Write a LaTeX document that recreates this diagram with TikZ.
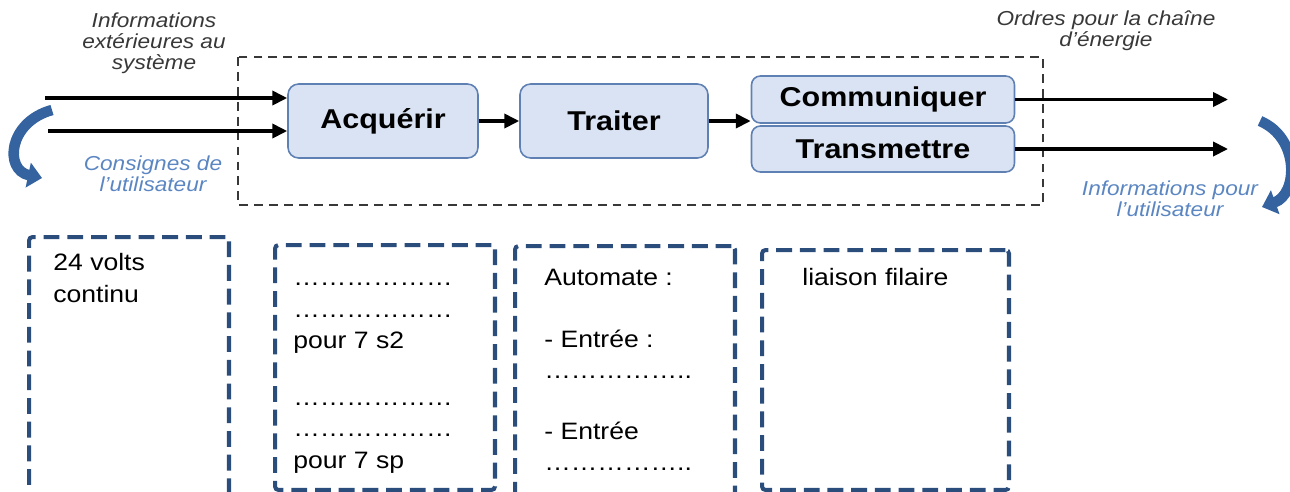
\documentclass[tikz,border=0pt]{standalone}
\usepackage{fontspec}
\setmainfont[FakeStretch=1.12]{Liberation Sans}
\usetikzlibrary{arrows.meta}

\definecolor{fondbloc}{HTML}{DAE3F3}
\definecolor{bordbloc}{HTML}{5F80B2}
\definecolor{bleufonce}{HTML}{2A4D7C}
\definecolor{bleuclair}{HTML}{5B86C2}
\definecolor{grisfonce}{HTML}{383838}
\definecolor{bleufleche}{HTML}{3463A0}

\newcommand{\pts}[1]{\foreach \k in {1,...,#1}{…}}

\tikzset{
	bloc/.style={draw=bordbloc, fill=fondbloc, line width=0.9pt, rounded corners=6pt,
		font=\fontsize{15.5}{18}\selectfont\bfseries},
	flux/.style={line width=2pt, -{Triangle[length=8.5pt,width=8pt]}},
	reponse/.style={draw=bleufonce, line width=2.3pt, dash pattern=on 9pt off 4.5pt,
		rounded corners=2pt, anchor=north west, inner sep=0pt},
	texte/.style={anchor=north west, inner sep=0pt, align=left,
		font=\fontsize{13.5}{18}\selectfont},
	legende/.style={align=center, inner sep=0pt, text=grisfonce,
		font=\fontsize{11.5}{12}\selectfont\itshape},
	boucle/.style={draw=bleufleche, line width=6pt, -{Triangle[length=8pt,width=14pt]}}
}

\begin{document}
\begin{tikzpicture}[x=0.02cm, y=-0.02cm]
	\useasboundingbox (0,0) rectangle (1290,491);

	% chaine d'information
	\draw[line width=1pt, dash pattern=on 5pt off 3.5pt, draw=grisfonce] (238,57) rectangle (1043,205);
	\node[bloc, minimum width=3.8cm, minimum height=1.48cm] (acq) at (383,121) {Acquérir};
	\node[bloc, minimum width=3.76cm, minimum height=1.48cm] (trai) at (614,121) {Traiter};
	\node[bloc, rounded corners=5pt, minimum width=5.26cm, minimum height=0.94cm] (com) at (883,99.5) {Communiquer};
	\node[bloc, rounded corners=5pt, minimum width=5.26cm, minimum height=0.92cm] (tra) at (883,149) {Transmettre};

	\coordinate (in1) at (45,98);
	\coordinate (in2) at (48,131);
	\coordinate (out1) at (1228,97);
	\coordinate (out2) at (1228,150);

	\draw[flux] (in1) -- (in1 -| acq.west);
	\draw[flux] (in2) -- (in2 -| acq.west);
	\draw[flux] (acq.east) -- (trai.west);
	\draw[flux] (trai.east) -- (trai.east -| com.west);
	\draw[flux] (com.east) -- (com.east -| out1);
	\draw[flux] (tra.east) -- (tra.east -| out2);

	% legendes
	\node[legende] (infext) at (154,43) {Informations\\extérieures au\\système};
	\node[legende, text=bleuclair] (consignes) at (153,174) {Consignes de\\l’utilisateur};
	\node[legende] (ordres) at (1106,31) {Ordres pour la chaîne\\d’énergie};
	\node[legende, text=bleuclair] (infouti) at (1170,199) {Informations pour\\l’utilisateur};

	\draw[boucle] (52,110) .. controls (8,122) and (4,170) .. (42,178);
	\draw[boucle] (1260,121) .. controls (1300,138) and (1298,194) .. (1262,207);

	% cases a completer
	\node[reponse, minimum width=4cm, minimum height=5.3cm] (b1) at (27,235) {};
	\node[reponse, minimum width=4.4cm, minimum height=4.9cm] (b2) at (273,243) {};
	\node[reponse, minimum width=4.4cm, minimum height=5.12cm] (b3) at (513,244) {};
	\node[reponse, minimum width=4.94cm, minimum height=4.8cm] (b4) at (760,248) {};

	\node[texte] (t1) at (53,248) {\strut 24 volts\\continu};
	\node[texte] (t2) at (293,263) {\strut\pts{6}\\\pts{6}\\pour 7 s2\\[0.5cm]\pts{6}\\\pts{6}\\pour 7 sp};
	\node[texte] (t3) at (544,263) {\strut Automate :\\[0.6cm]- Entrée :\\\pts{5}..\\[0.58cm]- Entrée\\\pts{5}..};
	\node[texte] (t4) at (802,263) {\strut liaison filaire};
\end{tikzpicture}
\end{document}
